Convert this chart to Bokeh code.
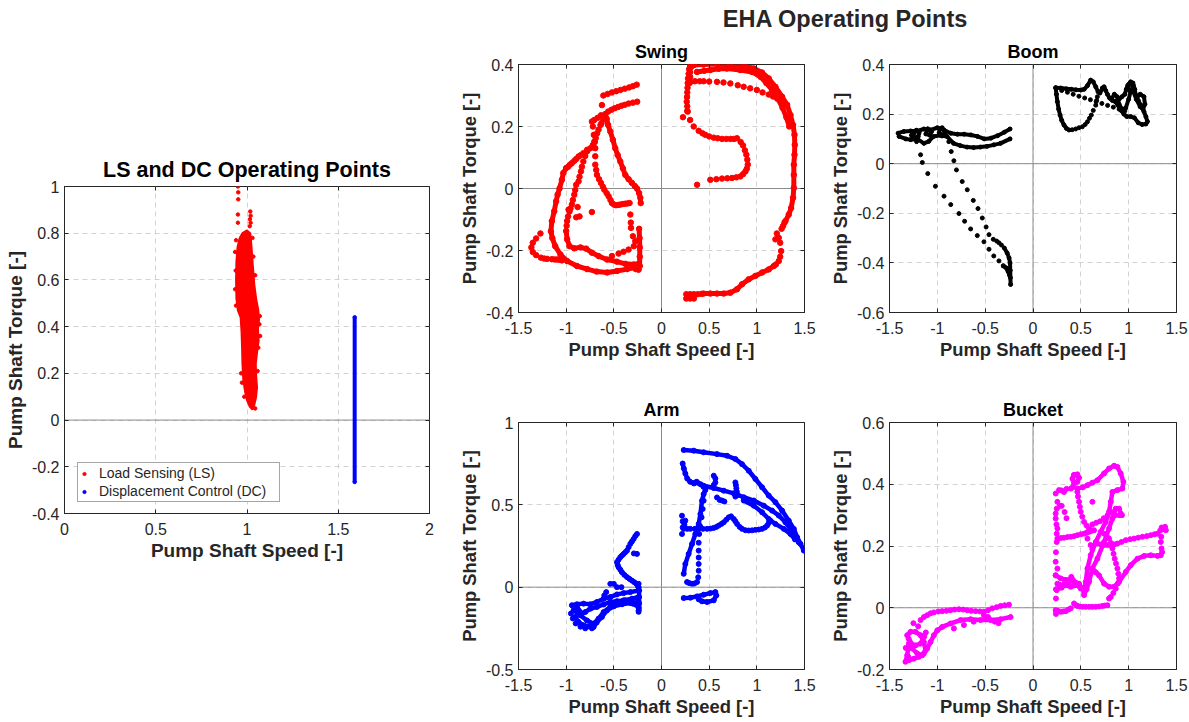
from bokeh.plotting import figure
from bokeh.models import Range1d, FixedTicker, LinearAxis, Span, Legend, LegendItem, Label
from bokeh.layouts import row, column
from bokeh.embed import file_html
from bokeh.resources import INLINE

FONT = "Liberation Sans"
INK = "#262626"

# ---------------- data ----------------
SPEED_TICKS_LEFT = [0, 0.5, 1, 1.5, 2]
TORQUE_TICKS_LEFT = [-0.4, -0.2, 0, 0.2, 0.4, 0.6, 0.8, 1]
SPEED_TICKS = [-1.5, -1, -0.5, 0, 0.5, 1, 1.5]
SWING_TICKS = [-0.4, -0.2, 0, 0.2, 0.4]
BOOM_TICKS = [-0.6, -0.4, -0.2, 0, 0.2, 0.4]
ARM_TICKS = [-0.5, 0, 0.5, 1]
BUCKET_TICKS = [-0.2, 0, 0.2, 0.4, 0.6]

# LS operating points: dense core outline + loose points
LS_CORE = [(0.975, 0.80), (1.0, 0.812), (1.018, 0.80), (1.025, 0.74), (1.032, 0.66), (1.04, 0.58),
           (1.05, 0.52), (1.062, 0.47), (1.066, 0.43), (1.06, 0.39), (1.064, 0.34), (1.055, 0.29),
           (1.048, 0.24), (1.05, 0.19), (1.055, 0.14), (1.05, 0.10), (1.04, 0.065), (1.03, 0.045),
           (1.015, 0.058), (1.0, 0.085), (0.99, 0.12), (0.98, 0.17), (0.975, 0.24), (0.973, 0.31),
           (0.97, 0.38), (0.965, 0.44), (0.95, 0.47), (0.942, 0.52), (0.94, 0.60), (0.942, 0.68),
           (0.948, 0.74), (0.96, 0.78)]
LS_POINTS = [(0.95, 1.0), (0.952, 0.975), (0.952, 0.945), (0.95, 0.88), (0.95, 0.845), (1.018, 0.893),
             (1.02, 0.875), (1.016, 0.86), (1.02, 0.845), (1.015, 0.83), (0.94, 0.77), (0.935, 0.72),
             (0.938, 0.64), (0.935, 0.56), (0.94, 0.49), (1.07, 0.445), (1.068, 0.41), (1.072, 0.36),
             (1.062, 0.31), (1.058, 0.21), (1.045, 0.05), (0.968, 0.2), (0.972, 0.16), (0.985, 0.10),
             (1.03, 0.78), (1.035, 0.70), (1.045, 0.62)]
DC_SPEED = [1.59, 1.59]
DC_TORQUE = [-0.265, 0.44]

# Swing (red)
SWING_DENSE = [
    [(-1.0, 0.066), (-1.03, 0.05), (-1.045, 0.028), (-1.07, 0.0), (-1.09, -0.02), (-1.105, -0.041),
     (-1.125, -0.073), (-1.15, -0.105), (-1.16, -0.138), (-1.145, -0.16), (-1.115, -0.186), (-1.06, -0.213),
     (-0.99, -0.234), (-0.887, -0.25), (-0.78, -0.26), (-0.68, -0.268), (-0.57, -0.271), (-0.467, -0.266),
     (-0.36, -0.26), (-0.275, -0.255), (-0.23, -0.25)],
    [(-0.63, 0.21), (-0.61, 0.228), (-0.59, 0.24), (-0.575, 0.225), (-0.56, 0.205), (-0.537, 0.184),
     (-0.51, 0.157), (-0.485, 0.13), (-0.46, 0.108), (-0.432, 0.087), (-0.405, 0.065), (-0.38, 0.044),
     (-0.345, 0.03), (-0.31, 0.018), (-0.28, 0.008), (-0.257, 0.0), (-0.235, -0.015), (-0.222, -0.03),
     (-0.218, -0.047)],
    [(-1.0, -0.137), (-0.99, -0.164), (-0.965, -0.186), (-0.915, -0.193), (-0.85, -0.19), (-0.79, -0.194),
     (-0.73, -0.207), (-0.66, -0.218), (-0.572, -0.229), (-0.467, -0.236), (-0.38, -0.243), (-0.29, -0.245),
     (-0.24, -0.243)],
    [(-0.235, -0.13), (-0.23, -0.16), (-0.228, -0.19), (-0.228, -0.22), (-0.23, -0.25), (-0.24, -0.262),
     (-0.27, -0.26)],
    [(0.30, 0.395), (0.34, 0.398), (0.44, 0.40), (0.58, 0.402), (0.72, 0.40), (0.865, 0.396), (0.97, 0.387),
     (1.055, 0.374), (1.125, 0.355), (1.195, 0.328), (1.265, 0.296), (1.318, 0.27), (1.353, 0.237),
     (1.38, 0.205), (1.395, 0.173), (1.398, 0.141), (1.395, 0.109), (1.388, 0.077), (1.388, 0.044),
     (1.388, 0.002), (1.38, -0.03), (1.36, -0.063), (1.335, -0.084), (1.30, -0.105), (1.275, -0.121)],
    [(0.372, 0.376), (0.45, 0.38), (0.512, 0.382), (0.6, 0.386), (0.687, 0.387), (0.827, 0.382),
     (0.95, 0.376), (1.04, 0.36), (1.10, 0.34), (1.16, 0.318), (1.22, 0.29), (1.27, 0.26), (1.31, 0.23),
     (1.34, 0.20)],
    [(0.44, -0.339), (0.512, -0.339), (0.582, -0.339), (0.652, -0.339), (0.722, -0.336), (0.792, -0.325),
     (0.845, -0.309), (0.915, -0.293), (0.985, -0.282), (1.055, -0.271), (1.125, -0.261), (1.178, -0.25)],
]
SWING_DOTS = [
    (-0.625, 0.269), (-0.61, 0.30), (-0.565, 0.305), (-0.52, 0.31), (-0.475, 0.314), (-0.43, 0.318),
    (-0.385, 0.322), (-0.34, 0.326), (-0.30, 0.33), (-0.26, 0.335),
    (-0.705, 0.221), (-0.67, 0.228), (-0.635, 0.236), (-0.56, 0.248), (-0.525, 0.254), (-0.49, 0.259),
    (-0.455, 0.263), (-0.42, 0.267), (-0.385, 0.27), (-0.345, 0.274), (-0.30, 0.277), (-0.255, 0.28),
    (-0.64, 0.205), (-0.66, 0.19), (-0.675, 0.178), (-0.69, 0.163), (-0.70, 0.15), (-0.72, 0.14),
    (-0.745, 0.13), (-0.78, 0.12), (-0.82, 0.114), (-0.85, 0.107), (-0.87, 0.103), (-0.895, 0.095),
    (-0.915, 0.089), (-0.94, 0.082), (-0.96, 0.077), (-0.98, 0.07),
    (-0.73, 0.216), (-0.72, 0.2), (-0.71, 0.173), (-0.705, 0.151),
    (-0.78, 0.125), (-0.80, 0.105), (-0.82, 0.087), (-0.835, 0.07), (-0.845, 0.055), (-0.86, 0.038),
    (-0.87, 0.023), (-0.895, 0.012), (-0.905, -0.005), (-0.915, -0.02), (-0.93, -0.037), (-0.94, -0.052),
    (-0.955, -0.065), (-0.965, -0.074), (-0.98, -0.09), (-0.99, -0.105), (-0.995, -0.12),
    (-0.695, 0.13), (-0.695, 0.104), (-0.695, 0.077), (-0.685, 0.06), (-0.677, 0.044), (-0.655, 0.03),
    (-0.635, 0.018), (-0.615, 0.006), (-0.60, -0.004), (-0.575, -0.015), (-0.555, -0.025), (-0.535, -0.037),
    (-0.52, -0.047), (-0.498, -0.052), (-0.478, -0.054), (-0.455, -0.053), (-0.432, -0.052), (-0.405, -0.05),
    (-0.38, -0.049), (-0.355, -0.048), (-0.335, -0.047),
    (-0.327, -0.084), (-0.322, -0.11), (-0.32, -0.127), (-0.30, -0.154), (-0.275, -0.17), (-0.29, -0.186),
    (-0.345, -0.197), (-0.398, -0.204), (-0.45, -0.21), (-0.52, -0.218),
    (-1.27, -0.145), (-1.315, -0.161), (-1.35, -0.175), (-1.365, -0.19), (-1.35, -0.205), (-1.315, -0.215),
    (-1.265, -0.223), (-1.23, -0.226), (-1.2, -0.227), (-1.15, -0.228), (-1.12, -0.229), (-1.095, -0.229),
    (-1.07, -0.23), (-1.045, -0.232),
    (-0.73, -0.076), (-0.895, -0.093), (-0.975, -0.068), (-0.88, -0.06), (-0.86, -0.09),
    (0.225, 0.23), (0.275, 0.248), (0.30, 0.221), (0.338, 0.20), (0.39, 0.186), (0.43, 0.178), (0.46, 0.173),
    (0.50, 0.168), (0.548, 0.164), (0.59, 0.162), (0.635, 0.16), (0.68, 0.16), (0.722, 0.16), (0.76, 0.16),
    (0.792, 0.162), (0.83, 0.15), (0.855, 0.139), (0.875, 0.123), (0.89, 0.109), (0.9, 0.093), (0.905, 0.077),
    (0.895, 0.064), (0.88, 0.055), (0.855, 0.046), (0.827, 0.039), (0.785, 0.036), (0.74, 0.034),
    (0.69, 0.033), (0.635, 0.032), (0.575, 0.03), (0.512, 0.028), (0.373, 0.012),
    (0.30, 0.344), (0.35, 0.346), (0.40, 0.346), (0.442, 0.346), (0.50, 0.345), (0.582, 0.344), (0.65, 0.342),
    (0.722, 0.339), (0.80, 0.333), (0.862, 0.328), (0.93, 0.323), (1.0, 0.318), (1.06, 0.31), (1.125, 0.303),
    (1.17, 0.297), (1.213, 0.29), (1.25, 0.283), (1.283, 0.275),
    (0.34, 0.40), (0.31, 0.392), (0.29, 0.385), (0.285, 0.37), (0.278, 0.355), (0.275, 0.34), (0.273, 0.325),
    (0.27, 0.31), (0.268, 0.295), (0.265, 0.28), (0.27, 0.265), (0.27, 0.25), (0.30, 0.375), (0.30, 0.36),
    (0.295, 0.34),
    (1.23, -0.159), (1.245, -0.175), (1.255, -0.202), (1.245, -0.22), (1.23, -0.234), (1.20, -0.245),
    (1.195, -0.164), (1.21, -0.145), (1.26, -0.13), (1.29, -0.11),
    (0.26, -0.341), (0.30, -0.341), (0.34, -0.341), (0.38, -0.341), (0.42, -0.34), (0.26, -0.355),
    (0.30, -0.355), (0.34, -0.355),
]

# Boom (black)
BOOM_DENSE = [
    [(-1.41, 0.123), (-1.35, 0.13), (-1.28, 0.132), (-1.21, 0.132), (-1.14, 0.14), (-1.07, 0.136),
     (-1.0, 0.145), (-0.93, 0.136), (-0.86, 0.123), (-0.79, 0.119), (-0.72, 0.119), (-0.65, 0.116),
     (-0.58, 0.11), (-0.51, 0.10), (-0.44, 0.103), (-0.37, 0.113), (-0.30, 0.127), (-0.24, 0.14)],
    [(-1.40, 0.11), (-1.33, 0.10), (-1.28, 0.097), (-1.21, 0.10), (-1.14, 0.082), (-1.09, 0.09),
     (-1.04, 0.11), (-0.97, 0.115), (-0.90, 0.11), (-0.83, 0.082), (-0.76, 0.073), (-0.69, 0.067),
     (-0.62, 0.065), (-0.55, 0.067), (-0.48, 0.07), (-0.41, 0.076), (-0.34, 0.082), (-0.24, 0.10)],
    [(-1.25, 0.12), (-1.22, 0.135), (-1.19, 0.125), (-1.2, 0.11), (-1.24, 0.105), (-1.27, 0.115)],
    [(-1.1, 0.14), (-1.06, 0.13), (-1.08, 0.115), (-1.12, 0.12), (-1.1, 0.14)],
    [(-0.98, 0.14), (-0.95, 0.145), (-0.92, 0.125), (-0.95, 0.112), (-0.98, 0.125)],
    [(-0.30, -0.34), (-0.27, -0.36), (-0.25, -0.38), (-0.24, -0.40), (-0.238, -0.43), (-0.236, -0.46),
     (-0.234, -0.487)],
    [(-0.31, -0.412), (-0.28, -0.42), (-0.26, -0.435), (-0.245, -0.45)],
    [(0.237, 0.306), (0.29, 0.305), (0.35, 0.302), (0.40, 0.30), (0.45, 0.298), (0.50, 0.297), (0.534, 0.30),
     (0.57, 0.315), (0.603, 0.337), (0.63, 0.33), (0.656, 0.31), (0.68, 0.29), (0.70, 0.285), (0.725, 0.305),
     (0.743, 0.31), (0.76, 0.295), (0.778, 0.28), (0.80, 0.265), (0.83, 0.255), (0.865, 0.25), (0.90, 0.26),
     (0.93, 0.27), (0.96, 0.28), (0.975, 0.30), (0.99, 0.315), (1.02, 0.322), (1.05, 0.315), (1.064, 0.30),
     (1.075, 0.276), (1.10, 0.255), (1.13, 0.235), (1.16, 0.21), (1.18, 0.19), (1.196, 0.17), (1.18, 0.16),
     (1.14, 0.158), (1.10, 0.165), (1.06, 0.185), (1.02, 0.19), (0.98, 0.19), (0.95, 0.2), (0.92, 0.215),
     (0.89, 0.235), (0.86, 0.25)],
    [(0.237, 0.306), (0.245, 0.28), (0.255, 0.25), (0.268, 0.22), (0.283, 0.196), (0.30, 0.175),
     (0.324, 0.156), (0.35, 0.142), (0.377, 0.136)],
    [(0.82, 0.26), (0.85, 0.28), (0.88, 0.27), (0.90, 0.24), (0.93, 0.22), (0.97, 0.225), (1.0, 0.26),
     (1.02, 0.29), (1.05, 0.29), (1.08, 0.26), (1.12, 0.23), (1.15, 0.22), (1.17, 0.24), (1.16, 0.27),
     (1.12, 0.28), (1.09, 0.27)],
    [(1.0, 0.30), (1.0, 0.32), (1.02, 0.33), (1.045, 0.325), (1.05, 0.305), (1.03, 0.295), (1.0, 0.30)],
]
BOOM_DOTS = [
    (-1.217, 0.089), (-1.175, 0.036), (-1.157, 0.005), (-1.1, -0.04), (-1.02, -0.091), (-0.93, -0.131),
    (-0.86, -0.165), (-0.774, -0.201), (-0.715, -0.232), (-0.652, -0.263), (-0.582, -0.29), (-0.513, -0.315),
    (-0.46, -0.345), (-0.41, -0.372), (-0.356, -0.392), (-0.31, -0.412), (-0.27, -0.424),
    (-0.88, 0.089), (-0.855, 0.049), (-0.827, 0.012), (-0.80, -0.025), (-0.74, -0.072), (-0.687, -0.105),
    (-0.624, -0.148), (-0.575, -0.181), (-0.53, -0.219), (-0.49, -0.255), (-0.46, -0.286), (-0.415, -0.305),
    (-0.38, -0.312), (-0.356, -0.319), (-0.33, -0.328),
    (0.41, 0.137), (0.446, 0.14), (0.48, 0.145), (0.516, 0.149), (0.545, 0.158), (0.569, 0.169), (0.59, 0.183),
    (0.61, 0.196), (0.63, 0.215), (0.656, 0.236), (0.665, 0.255), (0.673, 0.27),
    (0.30, 0.295), (0.36, 0.288), (0.42, 0.28), (0.48, 0.272), (0.54, 0.265), (0.60, 0.258), (0.66, 0.25),
    (0.72, 0.243), (0.78, 0.235), (0.84, 0.228), (0.90, 0.22), (0.96, 0.213),
]

# Arm (blue)
ARM_DENSE = [
    [(0.233, 0.833), (0.338, 0.829), (0.442, 0.819), (0.582, 0.808), (0.688, 0.798), (0.775, 0.778),
     (0.845, 0.747), (0.915, 0.707), (0.985, 0.657), (1.055, 0.607), (1.125, 0.556), (1.195, 0.516),
     (1.265, 0.465), (1.335, 0.404), (1.388, 0.354), (1.423, 0.303), (1.458, 0.263), (1.493, 0.222)],
    [(0.355, 0.636), (0.442, 0.616), (0.548, 0.602), (0.653, 0.586), (0.758, 0.57), (0.863, 0.546),
     (0.968, 0.526), (1.073, 0.495), (1.16, 0.465), (1.23, 0.435), (1.30, 0.394), (1.353, 0.354),
     (1.405, 0.313), (1.44, 0.273)],
    [(0.863, 0.526), (0.968, 0.495), (1.055, 0.455), (1.125, 0.414), (1.195, 0.384), (1.283, 0.354),
     (1.353, 0.323), (1.40, 0.29)],
    [(0.222, 0.751), (0.235, 0.72), (0.25, 0.69), (0.27, 0.66), (0.30, 0.64), (0.34, 0.63), (0.37, 0.64),
     (0.41, 0.625), (0.44, 0.61)],
    [(0.233, 0.081), (0.25, 0.141), (0.285, 0.202), (0.32, 0.262), (0.355, 0.323), (0.39, 0.384),
     (0.408, 0.444), (0.425, 0.525), (0.442, 0.565), (0.46, 0.59)],
    [(0.233, -0.066), (0.303, -0.064), (0.373, -0.056), (0.442, -0.046), (0.512, -0.036), (0.565, -0.03),
     (0.575, -0.05), (0.548, -0.08), (0.478, -0.09), (0.425, -0.086), (0.39, -0.074)],
    [(-0.467, 0.152), (-0.46, 0.135), (-0.45, 0.121), (-0.432, 0.106), (-0.415, 0.091), (-0.39, 0.075),
     (-0.362, 0.061), (-0.335, 0.05), (-0.31, 0.04), (-0.285, 0.03), (-0.264, 0.02), (-0.25, 0.01),
     (-0.24, 0.0)],
    [(-0.94, -0.11), (-0.887, -0.104), (-0.817, -0.10), (-0.747, -0.104), (-0.677, -0.09), (-0.607, -0.07),
     (-0.537, -0.06), (-0.467, -0.044), (-0.397, -0.036), (-0.327, -0.03), (-0.24, -0.02)],
    [(-0.922, -0.14), (-0.852, -0.171), (-0.782, -0.202), (-0.712, -0.222), (-0.66, -0.191), (-0.607, -0.151),
     (-0.537, -0.12), (-0.467, -0.10), (-0.397, -0.08), (-0.31, -0.07), (-0.24, -0.06)],
    [(-0.905, -0.181), (-0.87, -0.212), (-0.817, -0.232), (-0.765, -0.238), (-0.712, -0.242), (-0.68, -0.215),
     (-0.625, -0.181), (-0.572, -0.141), (-0.502, -0.117), (-0.415, -0.104), (-0.327, -0.096), (-0.24, -0.09)],
    [(-0.887, -0.12), (-0.835, -0.161), (-0.80, -0.151), (-0.747, -0.131), (-0.677, -0.12), (-0.607, -0.105),
     (-0.537, -0.09), (-0.467, -0.085), (-0.38, -0.08), (-0.30, -0.1), (-0.24, -0.121), (-0.24, -0.141)],
    [(-0.24, 0.02), (-0.235, -0.02), (-0.235, -0.06), (-0.235, -0.10), (-0.238, -0.13), (-0.24, -0.15)],
]
ARM_DOTS = [
    (0.233, 0.354), (0.27, 0.354), (0.303, 0.354), (0.35, 0.354), (0.39, 0.354), (0.435, 0.354),
    (0.478, 0.354), (0.515, 0.356), (0.548, 0.36), (0.575, 0.366), (0.6, 0.374), (0.628, 0.384),
    (0.653, 0.394), (0.68, 0.41), (0.705, 0.424), (0.73, 0.43), (0.758, 0.414), (0.775, 0.4), (0.793, 0.384),
    (0.82, 0.366), (0.845, 0.354), (0.88, 0.346), (0.915, 0.344), (0.95, 0.345), (0.985, 0.348), (1.02, 0.35),
    (1.055, 0.354), (1.085, 0.362), (1.108, 0.374), (1.125, 0.39), (1.143, 0.404),
    (0.215, 0.434), (0.222, 0.40), (0.222, 0.363), (0.215, 0.323), (0.25, 0.404), (0.24, 0.38),
    (0.548, 0.677), (0.565, 0.66), (0.565, 0.636), (0.548, 0.62), (0.582, 0.545), (0.61, 0.53),
    (0.635, 0.526), (0.66, 0.52), (0.775, 0.636), (0.78, 0.62), (0.785, 0.60), (0.79, 0.58), (0.80, 0.56),
    (0.775, 0.55),
    (0.442, 0.525), (0.432, 0.475), (0.42, 0.424), (0.405, 0.37), (0.395, 0.323), (0.39, 0.27),
    (0.39, 0.222), (0.39, 0.18), (0.39, 0.141), (0.39, 0.1), (0.385, 0.06), (0.373, 0.031), (0.345, 0.022),
    (0.32, 0.021), (0.29, 0.025), (0.268, 0.031),
    (-0.257, 0.323), (-0.275, 0.31), (-0.292, 0.293), (-0.31, 0.278), (-0.327, 0.263), (-0.345, 0.243),
    (-0.362, 0.222), (-0.38, 0.212), (-0.397, 0.202), (-0.415, 0.192), (-0.432, 0.182), (-0.45, 0.167),
    (-0.257, 0.202), (-0.29, 0.205),
    (-0.537, 0.02), (-0.50, 0.02), (-0.467, 0.0), (-0.42, 0.0), (-0.58, -0.03), (-0.60, -0.05),
    (-0.93, -0.19), (-0.95, -0.16), (-0.9, -0.22), (-0.85, -0.24), (-0.8, -0.25), (-0.73, -0.25),
]

# Bucket (magenta)
BUCKET_DENSE = [
    [(0.464, 0.386), (0.52, 0.39), (0.569, 0.397), (0.62, 0.405), (0.673, 0.413), (0.743, 0.435),
     (0.795, 0.451), (0.848, 0.46), (0.882, 0.456), (0.917, 0.435), (0.945, 0.408), (0.934, 0.386),
     (0.882, 0.381), (0.83, 0.375), (0.813, 0.343), (0.795, 0.311), (0.76, 0.278), (0.708, 0.246),
     (0.656, 0.213), (0.603, 0.17), (0.569, 0.127), (0.551, 0.084), (0.534, 0.051)],
    [(0.534, 0.041), (0.56, 0.06), (0.586, 0.084), (0.621, 0.127), (0.673, 0.159), (0.743, 0.213),
     (0.795, 0.257), (0.83, 0.289), (0.865, 0.321), (0.9, 0.321), (0.917, 0.305)],
    [(0.621, 0.127), (0.656, 0.115), (0.69, 0.105), (0.743, 0.078), (0.795, 0.068), (0.848, 0.068),
     (0.9, 0.084), (0.97, 0.116), (1.022, 0.138), (1.092, 0.159), (1.162, 0.168), (1.231, 0.17),
     (1.301, 0.168), (1.336, 0.17)],
    [(0.429, 0.43), (0.412, 0.418), (0.429, 0.402), (0.464, 0.408), (0.481, 0.421), (0.464, 0.432),
     (0.429, 0.43)],
    [(0.237, 0.105), (0.29, 0.095), (0.36, 0.089), (0.429, 0.084), (0.481, 0.078), (0.516, 0.062)],
    [(0.272, 0.075), (0.342, 0.073), (0.394, 0.068), (0.464, 0.073), (0.499, 0.062)],
    [(0.24, 0.06), (0.30, 0.065), (0.34, 0.09), (0.37, 0.075), (0.40, 0.1), (0.45, 0.08)],
    [(-0.234, -0.03), (-0.338, -0.037), (-0.443, -0.04), (-0.548, -0.04), (-0.652, -0.037), (-0.757, -0.04),
     (-0.862, -0.051), (-0.949, -0.062), (-1.0, -0.073), (-1.036, -0.089), (-1.071, -0.111), (-1.106, -0.132),
     (-1.141, -0.148), (-1.193, -0.159), (-1.245, -0.165), (-1.298, -0.17)],
    [(-1.315, -0.089), (-1.28, -0.078), (-1.228, -0.078), (-1.175, -0.089), (-1.141, -0.111), (-1.123, -0.138),
     (-1.158, -0.154), (-1.21, -0.148), (-1.263, -0.132), (-1.298, -0.116), (-1.315, -0.154), (-1.333, -0.175)],
    [(-1.30, -0.10), (-1.26, -0.12), (-1.228, -0.122), (-1.175, -0.116), (-1.14, -0.095), (-1.12, -0.08)],
]
BUCKET_DOTS = [
    (0.237, -0.008), (0.26, -0.01), (0.29, -0.013), (0.315, -0.012), (0.342, -0.011), (0.37, -0.006),
    (0.394, -0.002), (0.429, 0.014), (0.45, 0.008), (0.464, 0.006), (0.49, 0.004), (0.516, 0.003),
    (0.55, 0.003), (0.586, 0.003), (0.62, 0.003), (0.656, 0.003), (0.69, 0.004), (0.725, 0.006),
    (0.75, 0.007), (0.778, 0.008), (0.795, 0.03),
    (0.255, 0.224), (0.29, 0.226), (0.324, 0.227), (0.36, 0.229), (0.394, 0.23), (0.43, 0.232), (0.464, 0.235),
    (0.5, 0.238), (0.534, 0.24), (0.56, 0.243), (0.586, 0.246), (0.61, 0.249), (0.638, 0.251),
    (0.673, 0.208), (0.71, 0.205), (0.743, 0.203), (0.78, 0.203), (0.813, 0.203), (0.85, 0.205),
    (0.882, 0.208), (0.925, 0.213), (0.97, 0.219), (1.015, 0.222), (1.057, 0.224), (1.1, 0.227),
    (1.144, 0.23), (1.19, 0.232), (1.231, 0.235), (1.27, 0.238), (1.301, 0.24), (1.33, 0.25), (1.354, 0.256),
    (1.371, 0.256), (1.389, 0.251), (1.38, 0.262), (1.345, 0.26),
    (1.343, 0.192), (1.336, 0.213), (1.34, 0.23), (1.35, 0.18),
    (0.464, 0.375), (0.47, 0.36), (0.481, 0.343), (0.49, 0.327), (0.499, 0.311), (0.515, 0.295),
    (0.534, 0.278), (0.56, 0.266), (0.586, 0.256), (0.61, 0.25), (0.569, 0.224), (0.603, 0.203), (0.62, 0.19),
    (0.743, 0.24), (0.77, 0.232), (0.795, 0.224), (0.815, 0.21), (0.83, 0.192), (0.842, 0.175),
    (0.854, 0.159), (0.868, 0.143), (0.882, 0.127), (0.892, 0.11), (0.9, 0.095), (0.885, 0.078),
    (0.865, 0.062), (0.84, 0.048), (0.813, 0.035),
    (0.237, 0.37), (0.255, 0.343), (0.248, 0.321), (0.237, 0.305), (0.237, 0.289), (0.245, 0.27),
    (0.255, 0.257), (0.248, 0.24), (0.248, 0.213), (0.24, 0.18), (0.237, 0.149), (0.255, 0.127),
    (0.237, 0.105), (0.255, 0.078), (0.248, 0.057), (0.24, 0.03), (0.24, -0.01), (0.24, -0.02),
    (0.272, 0.381), (0.3, 0.38), (0.324, 0.375), (0.35, 0.385), (0.394, 0.386), (0.415, 0.39),
    (0.28, 0.33), (0.3, 0.33), (0.33, 0.31), (0.35, 0.29), (0.621, 0.343),
    (0.62, 0.27), (0.66, 0.275), (0.7, 0.28), (0.74, 0.29), (0.78, 0.3), (0.82, 0.31), (0.86, 0.3),
    (0.9, 0.3), (0.93, 0.3),
    (-1.175, -0.04), (-1.14, -0.03), (-1.106, -0.024), (-1.07, -0.018), (-1.036, -0.015), (-0.99, -0.012),
    (-0.949, -0.011), (-0.905, -0.01), (-0.862, -0.008), (-0.82, -0.006), (-0.774, -0.005), (-0.73, -0.006),
    (-0.687, -0.008), (-0.645, -0.01), (-0.6, -0.011), (-0.555, -0.012), (-0.513, -0.013), (-0.47, -0.008),
    (-0.426, -0.002), (-0.38, 0.002), (-0.338, 0.006), (-0.295, 0.008), (-0.251, 0.01),
    (-0.827, -0.067), (-0.722, -0.056), (-0.62, -0.045), (-0.513, -0.024), (-0.47, -0.03), (-0.40, -0.045),
    (-0.36, -0.05), (-1.2, -0.06), (-1.25, -0.05), (-1.33, -0.13), (-1.3, -0.16),
]


# ---------------- helpers ----------------
def make_fig(width, height, xr, yr, borders, title=None, title_size="18px", title_standoff=6):
    l, r, t, b = borders
    p = figure(width=width, height=height, x_range=Range1d(*xr), y_range=Range1d(*yr),
               toolbar_location=None, output_backend="svg",
               min_border_left=l, min_border_right=r, min_border_top=t, min_border_bottom=b)
    p.outline_line_color = INK
    p.outline_line_width = 1
    p.background_fill_color = "white"
    p.border_fill_color = "white"
    if title:
        p.title.text = title
        p.title.align = "center"
        p.title.text_font = FONT
        p.title.text_font_size = title_size
        p.title.text_font_style = "bold"
        p.title.text_color = "black"
        p.title.standoff = title_standoff
    return p


def style_axes(p, xticks, yticks, tick_size="16px", label_size="18.4px"):
    for ax, ticks, lab, standoff, lstand in ((p.xaxis[0], xticks, "Pump Shaft Speed [-]", 9, 2),
                                             (p.yaxis[0], yticks, "Pump Shaft Torque [-]", 5, 3)):
        ax.ticker = FixedTicker(ticks=ticks)
        ax.major_label_overrides = {v: f"{v:g}" for v in ticks}
        ax.major_label_text_font = FONT
        ax.major_label_text_font_size = tick_size
        ax.major_label_text_color = INK
        ax.major_label_standoff = standoff
        ax.major_tick_in = 4
        ax.major_tick_out = 0
        ax.major_tick_line_color = INK
        ax.minor_tick_line_color = None
        ax.axis_line_color = INK
        ax.axis_label = lab
        ax.axis_label_text_font = FONT
        ax.axis_label_text_font_size = label_size
        ax.axis_label_text_font_style = "bold"
        ax.axis_label_text_color = INK
        ax.axis_label_standoff = lstand
    for g in (p.xgrid[0], p.ygrid[0]):
        g.grid_line_color = "#d2d2d2"
        g.grid_line_dash = "5 4"
        g.grid_line_width = 1
    # tick marks on the top and right edges of the box (no labels drawn)
    for loc, ticks in (("above", xticks), ("right", yticks)):
        ax = LinearAxis(ticker=FixedTicker(ticks=ticks), major_label_text_font_size="1px",
                        major_label_text_color=None, major_label_standoff=0, major_tick_in=4,
                        major_tick_out=0, major_tick_line_color=INK, minor_tick_line_color=None,
                        axis_line_color=None)
        p.add_layout(ax, loc)


def zero_lines(p, vertical=True):
    p.add_layout(Span(location=0, dimension="width", line_color="#8c8c8c", line_width=1, level="underlay"))
    if vertical:
        p.add_layout(Span(location=0, dimension="height", line_color="#8c8c8c", line_width=1, level="underlay"))


def draw(p, dense, dots, color, size, lw):
    p.multi_line([[q[0] for q in path] for path in dense], [[q[1] for q in path] for path in dense],
                 line_color=color, line_width=lw, line_cap="round", line_join="round")
    pts = [q for path in dense for q in path] + dots
    p.scatter([q[0] for q in pts], [q[1] for q in pts], size=size, color=color, marker="circle")


# ---------------- left: LS and DC ----------------
pl = make_fig(455, 722, (0, 2), (-0.4, 1), (64, 26, 186, 209), "LS and DC Operating Points", "21.5px", 9)
style_axes(pl, SPEED_TICKS_LEFT, TORQUE_TICKS_LEFT, "16px", "19px")
zero_lines(pl, vertical=False)
pl.patch([q[0] for q in LS_CORE], [q[1] for q in LS_CORE], fill_color="#ff0000", line_color="#ff0000",
         line_width=2)
ls_r = pl.scatter([q[0] for q in LS_POINTS], [q[1] for q in LS_POINTS], size=3.5, color="#ff0000")
pl.line(DC_SPEED, DC_TORQUE, line_color="#0000ff", line_width=4)
dc_r = pl.scatter(DC_SPEED, DC_TORQUE, size=3.5, color="#0000ff")
legend = Legend(items=[LegendItem(label="Load Sensing (LS)", renderers=[ls_r]),
                       LegendItem(label="Displacement Control (DC)", renderers=[dc_r])],
                location=(13, 11), label_text_font=FONT, label_text_font_size="14px",
                label_text_color=INK, label_height=15, glyph_height=15, glyph_width=8, label_width=178,
                label_standoff=11, spacing=2, padding=2, margin=0,
                border_line_color="#4d4d4d", border_line_width=1, background_fill_color="white",
                background_fill_alpha=1)
pl.add_layout(legend)

# ---------------- right: EHA ----------------
pt = figure(width=734, height=36, x_range=Range1d(0, 1), y_range=Range1d(0, 1), toolbar_location=None,
            output_backend="svg", min_border=0, x_axis_location=None, y_axis_location=None)
pt.grid.visible = False
pt.outline_line_color = None
pt.add_layout(Label(x=390, y=18, x_units="screen", y_units="screen", text="EHA Operating Points",
                    text_align="center", text_baseline="middle", text_font=FONT, text_font_size="23.5px",
                    text_font_style="bold", text_color=INK))

ps = make_fig(365, 349, (-1.5, 1.5), (-0.4, 0.4), (63, 16, 27, 73), "Swing")
style_axes(ps, SPEED_TICKS, SWING_TICKS)
zero_lines(ps)
draw(ps, SWING_DENSE, SWING_DOTS, "#ff0000", 5.5, 5)

pb = make_fig(369, 349, (-1.5, 1.5), (-0.6, 0.4), (69, 13, 27, 73), "Boom")
style_axes(pb, SPEED_TICKS, BOOM_TICKS)
zero_lines(pb)
draw(pb, BOOM_DENSE, BOOM_DOTS, "#000000", 4, 4)

pa = make_fig(365, 337, (-1.5, 1.5), (-0.5, 1), (63, 16, 37, 53), "Arm")
style_axes(pa, SPEED_TICKS, ARM_TICKS)
zero_lines(pa)
draw(pa, ARM_DENSE, ARM_DOTS, "#0000ff", 5, 4.5)

pk = make_fig(369, 337, (-1.5, 1.5), (-0.2, 0.6), (69, 13, 37, 53), "Bucket")
style_axes(pk, SPEED_TICKS, BUCKET_TICKS)
zero_lines(pk)
draw(pk, BUCKET_DENSE, BUCKET_DOTS, "#ff00ff", 5, 4.5)

layout = row(pl, column(pt, row(ps, pb), row(pa, pk)))
open("out.html", "w").write(file_html(layout, INLINE))
